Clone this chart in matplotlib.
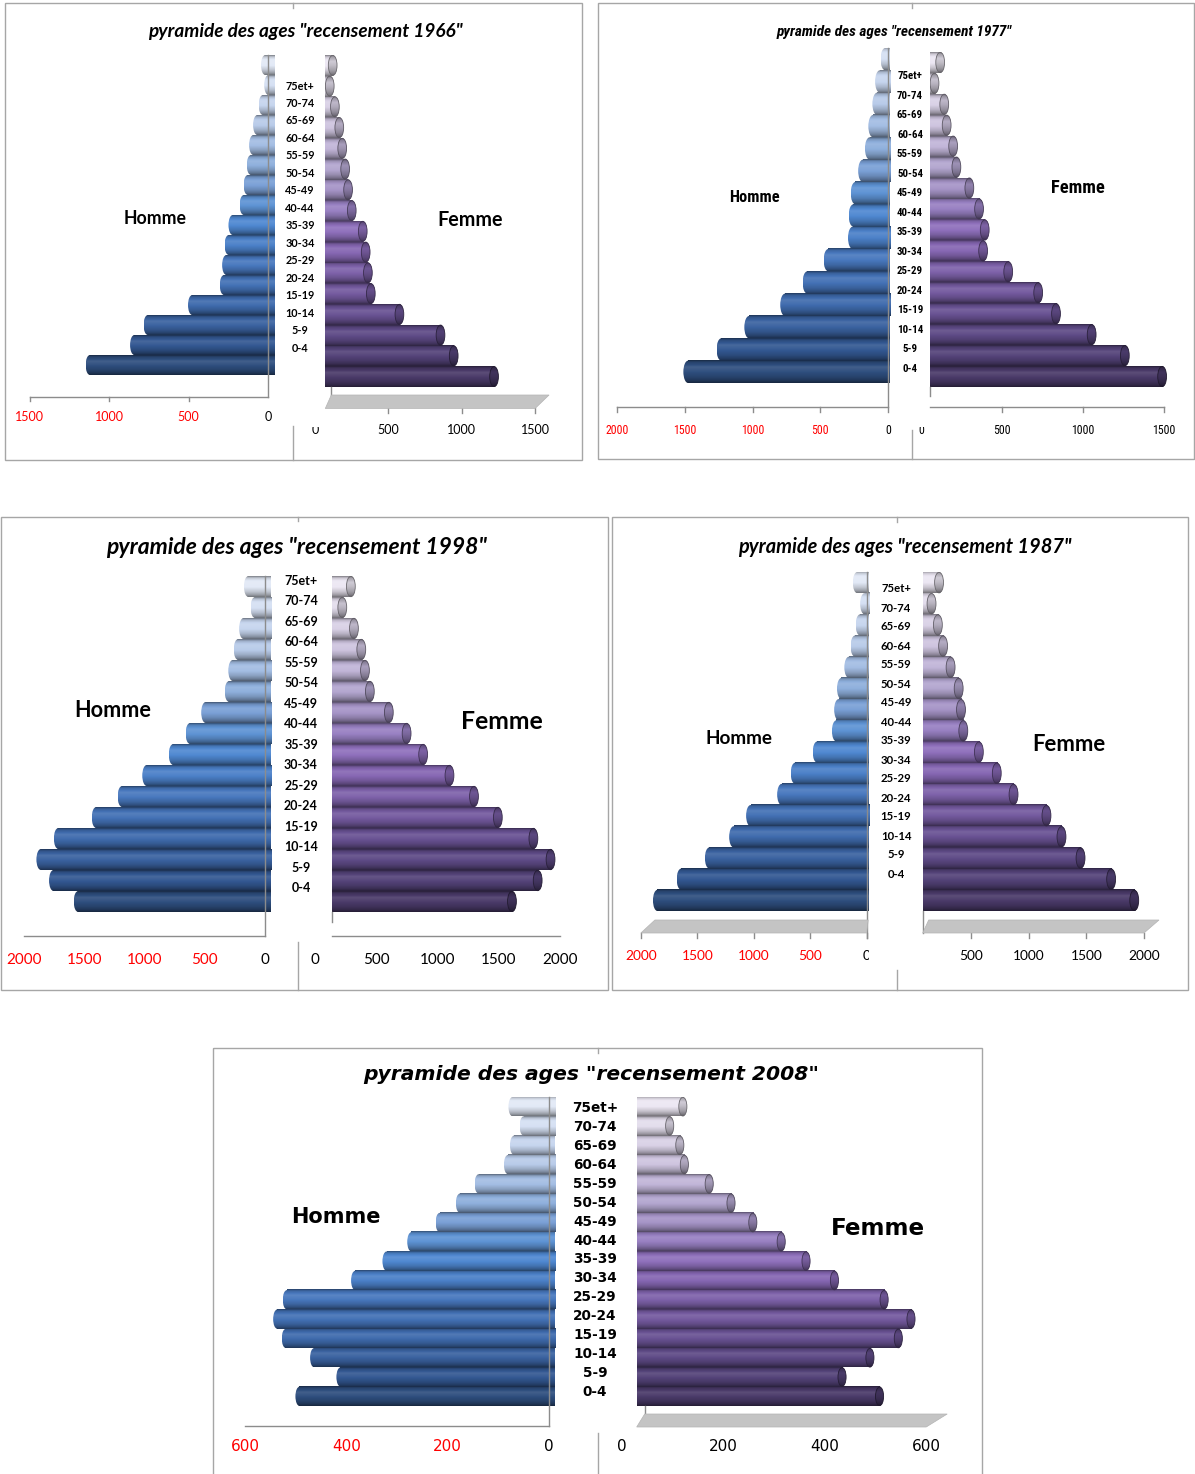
import numpy as np
import matplotlib
matplotlib.use("Agg")
import matplotlib.pyplot as plt
from matplotlib import transforms, font_manager
from matplotlib.patches import Rectangle, Ellipse, Polygon
from matplotlib.lines import Line2D
from matplotlib.colors import to_rgb
from matplotlib.transforms import Bbox, TransformedBbox

W, H = 1195, 1474
fig = plt.figure(figsize=(W / 100, H / 100), dpi=100)
fig.patch.set_facecolor("white")
# pixel coordinates (origin top-left, y downwards) -> display
PX = transforms.Affine2D().scale(1 / W, -1 / H).translate(0, 1) + fig.transFigure

# ---------------------------------------------------------------- data
AGES = ["0-4", "5-9", "10-14", "15-19", "20-24", "25-29", "30-34", "35-39",
        "40-44", "45-49", "50-54", "55-59", "60-64", "65-69", "70-74", "75et+"]

HOMME_1966 = [1190, 910, 825, 545, 345, 330, 315, 290, 220, 195, 175, 160, 135, 100, 65, 85]
FEMME_1966 = [1180, 905, 815, 535, 340, 320, 305, 285, 210, 185, 165, 145, 125, 95, 60, 80]

# the 1977 male series stops at 70-74
HOMME_1977 = [1525, 1280, 1075, 810, 645, 490, 310, 305, 290, 235, 185, 160, 130, 110, 70]
FEMME_1977 = [1460, 1230, 1025, 805, 695, 510, 355, 365, 330, 270, 190, 170, 130, 115, 55, 90]

HOMME_1987 = [1910, 1700, 1450, 1235, 1085, 810, 690, 495, 325, 305, 280, 215, 160, 115, 75, 140]
FEMME_1987 = [1870, 1670, 1405, 1240, 1110, 825, 680, 525, 390, 370, 350, 280, 215, 170, 115, 180]

HOMME_1998 = [1640, 1845, 1950, 1805, 1490, 1275, 1070, 850, 710, 580, 385, 355, 310, 265, 170, 225]
FEMME_1998 = [1505, 1715, 1820, 1680, 1390, 1195, 995, 780, 645, 500, 345, 305, 275, 215, 120, 190]

HOMME_2008 = [513, 432, 484, 540, 557, 538, 403, 341, 292, 236, 196, 159, 101, 89, 70, 92]
FEMME_2008 = [487, 413, 468, 524, 549, 496, 398, 342, 293, 237, 194, 151, 102, 93, 73, 99]

TICKS_1966 = [0, 500, 1000, 1500]
TICKS_1977_H = [0, 500, 1000, 1500, 2000]
TICKS_1977_F = [0, 500, 1000, 1500]
TICKS_2000 = [0, 500, 1000, 1500, 2000]
TICKS_2008 = [0, 200, 400, 600]

# ---------------------------------------------------------------- style
_names = {f.name for f in font_manager.fontManager.ttflist}


def first_font(*cands):
    for c in cands:
        if c in _names:
            return c
    return "DejaVu Sans"


CAL = first_font("Lato", "Open Sans", "Noto Sans")
NARROW = first_font("Liberation Sans Narrow", "Roboto Condensed", "DejaVu Sans Condensed", "Lato")
NK = 1.0 if NARROW != CAL else 0.82
VERD = "DejaVu Sans"

RAMP_H = ["#2e4e7e", "#335892", "#3a62a0", "#3f6bad", "#4371b5", "#4878be",
          "#4b80c8", "#4f88d1", "#5e93d4", "#7aa0d6", "#8eafdc", "#a3bde3",
          "#b8cbe9", "#c6d5ee", "#d5e0f3", "#e2e9f6"]
RAMP_F = ["#4a3a69", "#544379", "#5e4a86", "#695293", "#745a9f", "#7e62aa",
          "#8667b3", "#8f70bc", "#9880c2", "#a694c7", "#b3a6cf", "#c1b5d8",
          "#cec4df", "#d9d1e6", "#e3ddec", "#ece7f3"]

RED = "#ff0000"
AXIS = "#8c8c8c"
BOX = "#a6a6a6"
FLOOR = "#c4c4c4"

PROF_T = np.array([0.0, 0.08, 0.3, 0.5, 0.75, 0.9, 1.0])
PROF_F = np.array([0.55, 0.85, 1.1, 1.02, 0.85, 0.68, 0.5])


def shade(rgb, f):
    rgb = np.asarray(rgb, float)
    out = rgb * f if f <= 1 else rgb + (1 - rgb) * (f - 1)
    return np.clip(out, 0, 1)


def cylinder(rgb, k=1.0, n=48):
    t = np.linspace(0, 1, n)
    f = np.interp(t, PROF_T, PROF_F) * k
    return np.array([shade(rgb, v) for v in f])[:, None, :]


# ---------------------------------------------------------------- helpers
def pyramid_half(values, side, base, zero, ppu, y_top, y_bot, reach, ramp, face):
    """One side of a pyramid: horizontal cylinders growing away from `base`."""
    n = len(values)
    x0, x1 = (base - reach, base) if side < 0 else (base, base + reach)
    ax = fig.add_axes([x0 / W, 1 - y_bot / H, (x1 - x0) / W, (y_bot - y_top) / H])
    ax.set_axis_off()
    span = reach / ppu
    bars = ax.barh(np.arange(n), values, height=1.0, color="none", linewidth=0)
    bar_px = (y_bot - y_top) / n
    capw = 0.42 * bar_px / ppu
    for i, rect in enumerate(bars.patches):
        rgb = np.array(to_rgb(ramp[i]))
        y, h, w = rect.get_y(), rect.get_height(), rect.get_width()
        end = w - capw / 2
        ax.imshow(cylinder(rgb), extent=(0, end, y, y + h), aspect="auto",
                  origin="upper", interpolation="bilinear", zorder=2)
        cap = Ellipse((end, y + h / 2), capw, h, transform=ax.transData)
        im = ax.imshow(cylinder(rgb, 0.8 if face else 1.0),
                       extent=(end - capw / 2, end + capw / 2, y, y + h),
                       aspect="auto", origin="upper", interpolation="bilinear", zorder=3)
        im.set_clip_path(cap)
        if face:
            ax.add_patch(Ellipse((end, y + h / 2), capw, h * 0.97, fill=False,
                                 edgecolor=shade(rgb, 0.45), lw=0.6, zorder=4))
    ax.set_xlim((span, 0) if side < 0 else (0, span))
    ax.set_ylim(-0.5, n - 0.5)
    shift = side * (zero - base) / ppu
    return ax, shift


def bt(ax):
    return transforms.blended_transform_factory(ax.transData, PX)


def hline(ax, d0, d1, y, color=AXIS, lw=1.0):
    ax.add_line(Line2D([d0, d1], [y, y], transform=bt(ax), color=color, lw=lw,
                       clip_on=False, zorder=5))


def vline(ax, d, y0, y1, color=AXIS, lw=1.0):
    ax.add_line(Line2D([d, d], [y0, y1], transform=bt(ax), color=color, lw=lw,
                       clip_on=False, zorder=5))


def px_of(ax, d):
    return ax.transData.transform((d, 0))[0]


def tick_marks(ax, shift, ticks, y0, y1):
    for t in ticks:
        vline(ax, t + shift, y0, y1)


def tick_text(ax, shift, ticks, y, colors, size, family):
    out = []
    for t, c in zip(ticks, colors):
        out.append(ax.text(t + shift, y, f"{t}", transform=bt(ax), ha="center",
                           va="center", color=c, fontsize=size, family=family,
                           clip_on=False, zorder=6))
    return out


def clip_text(txt, x0, y0, x1, y1):
    box = TransformedBbox(Bbox.from_extents(x0 / W, 1 - y1 / H, x1 / W, 1 - y0 / H),
                          fig.transFigure)
    txt.set_clip_box(box)
    txt.set_clip_on(True)


def floor(ax_l, d_l, ax_r, d_r, y_front, y_back, dl, dr):
    xl, xr = px_of(ax_l, d_l), px_of(ax_r, d_r)
    fig.add_artist(Polygon([(xl, y_front), (xl + dl, y_back), (xr + dr, y_back),
                            (xr, y_front)], closed=True, transform=PX,
                           facecolor=FLOOR, edgecolor="#b4b4b4", lw=0.5, zorder=1))


def age_column(xc, y75, y04, size, family):
    ax = fig.add_axes([(xc - 30) / W, 1 - y04 / H, 60 / W, (y04 - y75) / H])
    ax.set_axis_off()
    ax.set_xlim(0, 1)
    ax.set_ylim(0, len(AGES) - 1)
    for i, lab in enumerate(AGES):
        ax.text(0.5, i, lab, ha="center", va="center", fontsize=size,
                family=family, fontweight="bold", clip_on=False)


def ptext(x, y, s, size, family, weight="bold", style="normal", color="black"):
    fig.text(x, y, s, transform=PX, ha="center", va="center", fontsize=size,
             family=family, fontweight=weight, fontstyle=style, color=color)


def frame(x0, y0, x1, y1, xd, gaps):
    fig.add_artist(Rectangle((x0, y0), x1 - x0, y1 - y0, transform=PX, fill=False,
                             edgecolor=BOX, lw=1.0, zorder=0))
    for a, b in gaps:
        fig.add_artist(Line2D([xd, xd], [a, b], transform=PX, color=BOX, lw=1.0))


def reds(ticks):
    return ["black" if t == 0 else RED for t in ticks]


# ---------------------------------------------------------------- 1966
frame(5, 3, 582, 460, 293.5, [(3, 8), (426, 460)])
ptext(305, 31, "pyramide des ages \"recensement 1966\"", 13.7, CAL, style="italic")
ax, s = pyramid_half(HOMME_1966, -1, 274.5, 268, 0.1587, 55, 375, 245, RAMP_H, False)
hline(ax, s, s + 1500, 397)
vline(ax, s, 55, 397)
tick_marks(ax, s, TICKS_1966[1:], 397, 401)
tick_text(ax, s, TICKS_1966, 417, reds(TICKS_1966), 9.0, CAL)
ax, s = pyramid_half(FEMME_1966, 1, 325.3, 315, 0.1467, 55, 387, 225, RAMP_F, True)
floor(ax, 0, ax, 1500 + s, 408.5, 395, 6, 14)
vline(ax, 6 / 0.1467, 387, 395)
tick_marks(ax, s, TICKS_1966[1:], 408.5, 413)
tt = tick_text(ax, s, TICKS_1966, 430, ["black"] * 4, 9.0, CAL)
clip_text(tt[0], 300, 427, 330, 440)
age_column(300, 86, 348, 7.8, CAL)
ptext(155, 218, "Homme", 12.8, CAL)
ptext(470, 220, "Femme", 14.2, CAL)

# ---------------------------------------------------------------- 1977
frame(598, 3, 1194, 459, 912, [(3, 8), (430, 459)])
ptext(894, 32, "pyramide des ages \"recensement 1977\"", 11.0 * NK, NARROW, style="italic")
ax, s = pyramid_half(HOMME_1977, -1, 890, 888, 0.1355, 48, 383, 275, RAMP_H, False)
hline(ax, s, s + 2000, 407)
vline(ax, s, 48, 412)
tick_marks(ax, s, TICKS_1977_H[1:], 407, 412)
tick_text(ax, s, TICKS_1977_H, 430, reds(TICKS_1977_H), 8.6 * NK, NARROW)
ax, s = pyramid_half(FEMME_1977, 1, 930, 921, 0.162, 52, 387, 240, RAMP_F, True)
hline(ax, 0, 1500 + s, 407)
vline(ax, 0, 387, 396)
tick_marks(ax, s, TICKS_1977_F[1:], 407, 412)
tt = tick_text(ax, s, TICKS_1977_F, 431, ["black"] * 4, 8.6 * NK, NARROW)
clip_text(tt[0], 905, 427, 935, 442)
age_column(910, 76, 369, 7.8 * NK, NARROW)
ptext(754, 198, "Homme", 11.8 * NK, NARROW)
ptext(1078, 188, "Femme", 13.2 * NK, NARROW)

# ---------------------------------------------------------------- 1998
frame(0.5, 517, 608, 990, 298, [(517, 521), (942, 990)])
ptext(296, 548, "pyramide des ages \"recensement 1998\"", 16.5, CAL, style="italic")
ax, s = pyramid_half(HOMME_1998, -1, 271, 265, 0.1203, 576, 912, 250, RAMP_H, False)
hline(ax, s, s + 2000, 936)
vline(ax, s, 576, 936)
tick_text(ax, s, TICKS_2000, 960, reds(TICKS_2000), 11.0, CAL)
ax, s = pyramid_half(FEMME_1998, 1, 332, 315, 0.1225, 576, 912, 230, RAMP_F, True)
hline(ax, 0, 2000 + s, 936)
vline(ax, 0, 912, 922)
tick_text(ax, s, TICKS_2000, 960, ["black"] * 5, 11.0, CAL)
age_column(301, 581, 888, 9.0, CAL)
ptext(113, 711, "Homme", 15.6, CAL)
ptext(502, 722, "Femme", 17.8, CAL)

# ---------------------------------------------------------------- 1987
frame(612, 517, 1188, 990, 897, [(517, 522), (970, 990)])
ptext(905, 547, "pyramide des ages \"recensement 1987\"", 14.4, CAL, style="italic")
ax, s = pyramid_half(HOMME_1987, -1, 868.6, 866.7, 0.1129, 572, 911, 230, RAMP_H, False)
floor(ax, 2000 + s, ax, s, 933, 920, 14, 1.5)
vline(ax, s, 572, 938)
tick_marks(ax, s, TICKS_2000, 933, 938)
tt = tick_text(ax, s, TICKS_2000, 956, reds(TICKS_2000), 9.9, CAL)
clip_text(tt[0], 855, 940, 868.5, 970)
ax_f, sf = pyramid_half(FEMME_1987, 1, 922.7, 913, 0.1155, 572, 911, 240, RAMP_F, True)
floor(ax_f, 0, ax_f, 2000 + sf, 933, 920, 6, 15)
vline(ax_f, 0, 911, 933)
tick_marks(ax_f, sf, TICKS_2000[1:], 933, 938)
tick_text(ax_f, sf, TICKS_2000[1:], 956, ["black"] * 4, 9.9, CAL)
age_column(896, 589, 874, 8.2, CAL)
ptext(739, 739, "Homme", 13.6, CAL)
ptext(1069, 745, "Femme", 15.9, CAL)

# ---------------------------------------------------------------- 2008
frame(213, 1048, 982, 1480, 597.6, [(1048, 1053), (1433, 1474)])
ptext(591, 1075, "pyramide des ages \"recensement 2008\"", 14.6, VERD, style="italic")
ax, s = pyramid_half(HOMME_2008, -1, 555, 549, 0.506, 1097, 1406, 312, RAMP_H, False)
hline(ax, s, s + 600, 1426)
vline(ax, s, 1097, 1426)
tick_text(ax, s, TICKS_2008, 1447, reds(TICKS_2008), 11.0, VERD)
ax, s = pyramid_half(FEMME_2008, 1, 636.7, 622, 0.507, 1097, 1406, 300, RAMP_F, True)
floor(ax, 0, ax, 600 + s, 1427, 1414, 8, 21)
vline(ax, 8 / 0.507, 1406, 1414)
tick_text(ax, s, TICKS_2008, 1447, ["black"] * 4, 11.0, VERD)
age_column(595, 1108, 1392, 9.8, VERD)
ptext(336, 1217, "Homme", 15.0, VERD)
ptext(878, 1229, "Femme", 16.6, VERD)

fig.savefig("out.png", dpi=100, facecolor="white")
